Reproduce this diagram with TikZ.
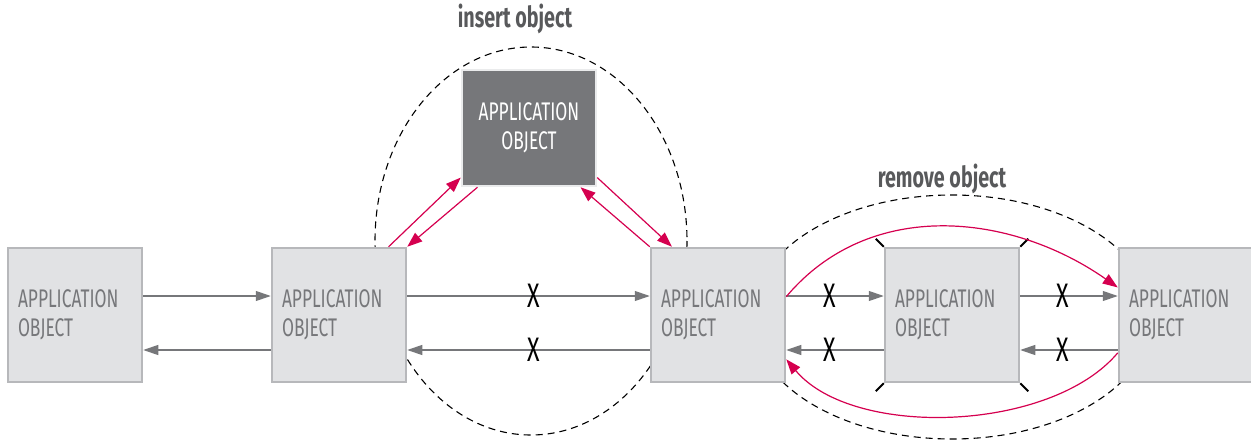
\documentclass[tikz,border=0pt]{standalone}
\usepackage{fontspec}
\newfontfamily\condfont[FakeStretch=0.68]{Fira Sans}
\usepackage{tikz}
\usetikzlibrary{arrows.meta,positioning}
\definecolor{appfill}{HTML}{E1E2E4}
\definecolor{appline}{HTML}{B7B8BB}
\definecolor{apptext}{HTML}{76777A}
\definecolor{appdark}{HTML}{76777A}
\definecolor{linkred}{HTML}{D5004F}
\definecolor{labelgray}{HTML}{58595B}
\newcommand{\objlabel}{\raisebox{-4pt}{\parbox[c]{114pt}{\raggedright APPLICATION\\OBJECT}}}

\begin{document}
\begin{tikzpicture}[x=1pt,y=-1pt,
  font=\condfont\fontsize{25.5}{28.5}\selectfont,
  appbox/.style={draw=appline,line width=2.5pt,fill=appfill,text=apptext,
    minimum width=134pt,minimum height=134pt,inner sep=10pt},
  newbox/.style={draw=appfill!70,line width=2.5pt,fill=appdark,text=white,
    minimum width=134pt,minimum height=116pt,inner sep=10pt,text width=114pt,align=center},
  flow/.style={draw=apptext,line width=1.2pt,-{Triangle[length=15pt,width=10pt]}},
  relink/.style={draw=linkred,line width=1.2pt,-{Triangle[length=15pt,width=11pt]}},
  cut/.style={font=\condfont\fontsize{34}{34}\selectfont,text=black,inner sep=0pt},
  zone/.style={draw=black,line width=1.1pt,dash pattern=on 7pt off 5pt},
  tick/.style={draw=black,line width=2pt},
  oplabel/.style={font=\condfont\bfseries\fontsize{29}{30}\selectfont,text=labelgray}]
\useasboundingbox (0,0) rectangle (1251,444);

% dashed zones
\draw[zone] (531,241) ellipse [x radius=156, y radius=194];
\draw[zone] (952,317) ellipse [x radius=200, y radius=122];
\node[oplabel] (insertlbl) at (515,19) {insert object};
\node[oplabel] (removelbl) at (942,179) {remove object};

% objects
\node[appbox] (a) at (75,315) {\objlabel};
\node[appbox] (b) at (339,315) {\objlabel};
\node[newbox] (c) at (529,128) {APPLICATION\\OBJECT};
\node[appbox] (d) at (718,315) {\objlabel};
\node[appbox] (e) at (952,315) {\objlabel};
\node[appbox] (f) at (1186,315) {\objlabel};

% old links
\draw[flow] ([yshift=19pt]a.east) -- ([yshift=19pt]b.west);
\draw[flow] ([yshift=-35pt]b.west) -- ([yshift=-35pt]a.east);
\draw[flow] ([yshift=19pt]b.east) -- node[cut,pos=0.52] {X} ([yshift=19pt]d.west);
\draw[flow] ([yshift=-35pt]d.west) -- node[cut,pos=0.48] {X} ([yshift=-35pt]b.east);
\draw[flow] ([yshift=19pt]d.east) -- node[cut,pos=0.45] {X} ([yshift=19pt]e.west);
\draw[flow] ([yshift=-35pt]e.west) -- node[cut,pos=0.55] {X} ([yshift=-35pt]d.east);
\draw[flow] ([yshift=19pt]e.east) -- node[cut,pos=0.44] {X} ([yshift=19pt]f.west);
\draw[flow] ([yshift=-35pt]f.west) -- node[cut,pos=0.56] {X} ([yshift=-35pt]e.east);

% corners of the removed object
\draw[tick] (e.north west) -- ++(-8,-8);
\draw[tick] (e.north east) -- ++(8,-8);
\draw[tick] (e.south west) -- ++(-8,8);
\draw[tick] (e.south east) -- ++(8,8);

% new links
\draw[relink] (b.54) -- (c.216);
\draw[relink] (c.229) -- (b.north east);
\draw[relink] (c.-36) -- (d.124);
\draw[relink] (d.north west) -- (c.-49);
\draw[relink] (d.15) to[out=50,in=145] (f.158);
\draw[relink] (f.209) to[out=230,in=-50,looseness=0.8] (d.-33);
\end{tikzpicture}
\end{document}
